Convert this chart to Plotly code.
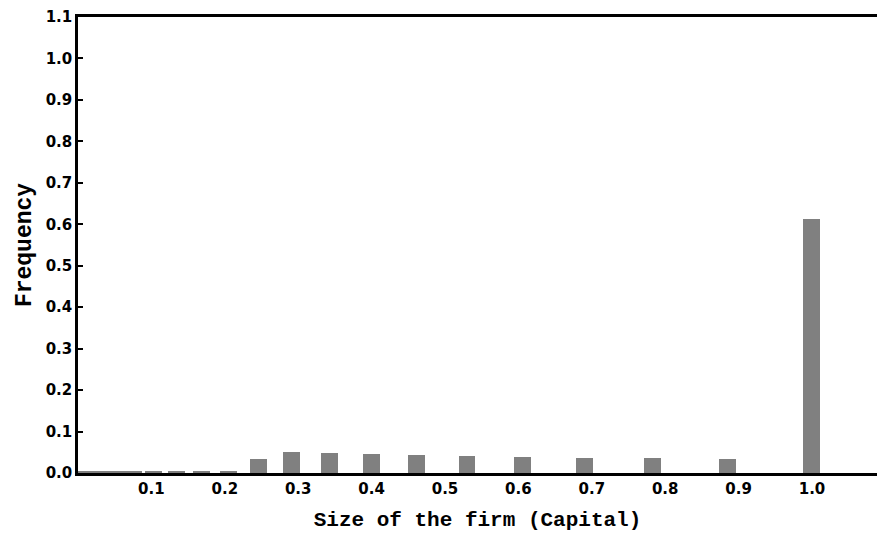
import plotly.graph_objects as go

# Data
firm_size = [0.010, 0.030, 0.052, 0.076, 0.103, 0.134, 0.168, 0.205,
             0.246, 0.291, 0.343, 0.400, 0.461, 0.530, 0.606, 0.690,
             0.783, 0.885, 1.000]
frequency = [0.003, 0.003, 0.003, 0.003, 0.003, 0.003, 0.003, 0.003,
             0.034, 0.050, 0.048, 0.046, 0.044, 0.041, 0.039, 0.037,
             0.036, 0.033, 0.612]
x_ticks = [0.1, 0.2, 0.3, 0.4, 0.5, 0.6, 0.7, 0.8, 0.9, 1.0]
y_ticks = [0.0, 0.1, 0.2, 0.3, 0.4, 0.5, 0.6, 0.7, 0.8, 0.9, 1.0, 1.1]

fig = go.Figure()
fig.add_trace(go.Bar(
    x=firm_size, y=frequency, width=0.0231,
    marker=dict(color="#808080", line=dict(width=0)),
))

tick_font = dict(family="DejaVu Sans", size=15, color="black", weight="bold")
xtitle_font = dict(family="Liberation Mono", size=21, color="black", weight="bold")
ytitle_font = dict(family="Liberation Mono", size=23, color="black", weight="bold")

fig.update_layout(
    width=877, height=534,
    margin=dict(l=78, r=0, t=17, b=61),
    plot_bgcolor="white", paper_bgcolor="white",
    showlegend=False, bargap=0,
    xaxis=dict(
        range=[0, 1.0886], tickvals=x_ticks, ticktext=[f"{v:.1f}" for v in x_ticks],
        showgrid=False, zeroline=False, showline=True, linecolor="black", linewidth=2.5,
        mirror=True, ticks="", tickfont=tick_font, automargin=False,
        title=dict(text="Size of the firm (Capital)", font=xtitle_font, standoff=15),
    ),
    yaxis=dict(
        range=[0, 1.1], tickvals=y_ticks, ticktext=[f"{v:.1f}" for v in y_ticks],
        showgrid=False, zeroline=False, showline=True, linecolor="black", linewidth=2.5,
        mirror=False, ticks="inside", ticklen=5, tickwidth=1.5, tickcolor="black",
        tickfont=tick_font, automargin=False,
        title=dict(text="Frequency", font=ytitle_font, standoff=8),
    ),
)

# remove the page's default body margin so the figure fills the window exactly
fig.write_html(
    "out.html",
    config={"displayModeBar": False},
    post_script="document.body.style.margin='0';document.body.style.overflow='hidden';",
)
